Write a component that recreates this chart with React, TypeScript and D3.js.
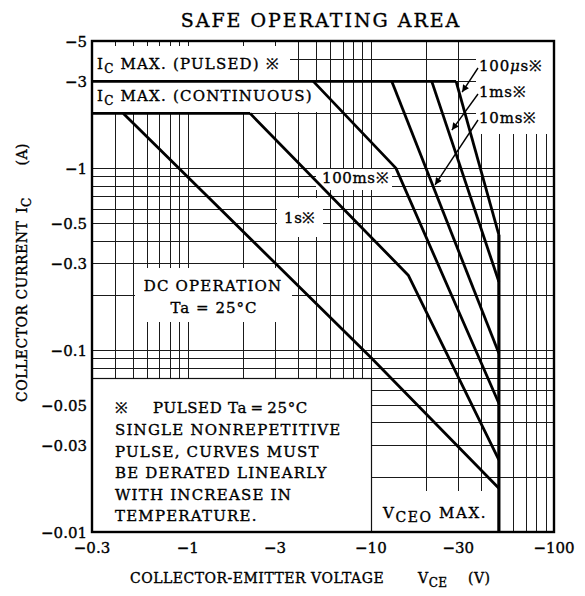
import React, { useEffect, useRef } from "react";
import * as d3 from "d3";

// limit curves, |VCE| in volts and |IC| in amperes
const dcVce = [0.445, 10, 50];
const dcIc = [2, 0.091, 0.0174];
const s1Vce = [2.19, 16, 50];
const s1Ic = [2, 0.258, 0.0249];
const ms100Vce = [4.85, 13.7, 50];
const ms100Ic = [3, 1.0, 0.051];
const ms10Vce = [13, 50];
const ms10Ic = [3, 0.096];
const ms1Vce = [21.5, 50];
const ms1Ic = [3, 0.2375];
const us100Vce = [29.2, 50];
const us100Ic = [3, 0.43];

const icMaxPulsed = 3;
const icMaxContinuous = 2;
const vceoMax = 50;

const vceTickLabels = [0.3, 1, 3, 10, 30, 100];
const icTickLabels = [5, 3, 1, 0.5, 0.3, 0.1, 0.05, 0.03, 0.01];

// arrow tips (on the curves) for the short-pulse labels
const arrowLabels = ["100us", "1ms", "10ms"];
const arrowTipVce = [31.5, 27.7, 22.4];
const arrowTipIc = [2.62, 1.62, 0.81];

const noteLines = [
  "SINGLE NONREPETITIVE",
  "PULSE, CURVES MUST",
  "BE DERATED LINEARLY",
  "WITH INCREASE IN",
  "TEMPERATURE.",
];

const zip = (a: number[], b: number[]) => a.map((v, i) => [v, b[i]] as [number, number]);

const App: React.FC = () => {
  const ref = useRef<SVGSVGElement | null>(null);

  useEffect(() => {
    const svg = d3.select(ref.current);
    svg.selectAll("*").remove();

    const left = 92, right = 554, top = 41, bottom = 532;
    const x = d3.scaleLog().domain([0.3, 100]).range([left, right]);
    const y = d3.scaleLog().domain([0.01, 5]).range([bottom, top]);
    const font = "'DejaVu Serif', serif";
    const snap = (v: number) => Math.round(v) + 0.5;

    svg.append("rect").attr("width", 585).attr("height", 596).attr("fill", "#fff");

    // log grid
    const vGrid = x.ticks().filter((v) => v > 0.3001 && v < 99.99);
    const hGrid = y.ticks().filter((v) => v > 0.01001 && v < 4.999);
    const grid = svg.append("g").attr("stroke", "#1a1a1a").attr("stroke-width", 1);
    grid.selectAll(".gv").data(vGrid).enter().append("line")
      .attr("x1", (d) => snap(x(d))).attr("x2", (d) => snap(x(d)))
      .attr("y1", top).attr("y2", bottom);
    grid.selectAll(".gh").data(hGrid).enter().append("line")
      .attr("y1", (d) => snap(y(d))).attr("y2", (d) => snap(y(d)))
      .attr("x1", left).attr("x2", right);

    // white patches behind labels
    const patches: [number, number, number, number][] = [
      [left + 1, 46, 290, 80],
      [left + 1, 82, 320, 112],
      [476, top + 1, right - 1, 134],
      [316, 169, 392, 190],
      [277, 198, 323, 237],
      [135, 268, 292, 322],
      [x(10) + 1.5, 491, x(vceoMax) - 1.5, bottom - 1],
    ];
    svg.append("g").selectAll("rect").data(patches).enter().append("rect")
      .attr("x", (d) => d[0]).attr("y", (d) => d[1])
      .attr("width", (d) => d[2] - d[0]).attr("height", (d) => d[3] - d[1])
      .attr("fill", "#fff");

    // note box
    svg.append("rect")
      .attr("x", left).attr("y", snap(y(0.07)))
      .attr("width", snap(x(10)) - left).attr("height", bottom - snap(y(0.07)))
      .attr("fill", "#fff").attr("stroke", "#111").attr("stroke-width", 1.2);

    // limit lines
    const line = d3.line<[number, number]>().x((d) => x(d[0])).y((d) => y(d[1]));
    const curves = [
      zip(dcVce, dcIc),
      zip(s1Vce, s1Ic),
      zip(ms100Vce, ms100Ic),
      zip(ms10Vce, ms10Ic),
      zip(ms1Vce, ms1Ic),
      zip(us100Vce, us100Ic),
      [[0.3, icMaxPulsed], [us100Vce[0], icMaxPulsed]] as [number, number][],
      [[0.3, icMaxContinuous], [s1Vce[0], icMaxContinuous]] as [number, number][],
    ];
    svg.append("g").selectAll("path").data(curves).enter().append("path")
      .attr("d", (d) => line(d)!)
      .attr("fill", "none").attr("stroke", "#000").attr("stroke-width", 2.8)
      .attr("stroke-linejoin", "round");
    svg.append("path")
      .attr("d", line([[vceoMax, 0.01], [vceoMax, us100Ic[1]]])!)
      .attr("stroke", "#000").attr("stroke-width", 3.2);

    // frame
    svg.append("rect")
      .attr("x", left).attr("y", top).attr("width", right - left).attr("height", bottom - top)
      .attr("fill", "none").attr("stroke", "#000").attr("stroke-width", 2.4);

    // heavier text, closer to the scanned datasheet face
    const ink = (t: any) => t.attr("fill", "#000").attr("stroke", "#000").attr("stroke-width", 0.35);

    // axis tick labels
    ink(svg.append("g")).selectAll("text").data(icTickLabels).enter().append("text")
      .attr("x", 87).attr("y", (d: number) => y(d) + 6)
      .attr("text-anchor", "end").attr("font-family", font).attr("font-size", 15)
      .text((d: number) => "\u2212" + d);
    ink(svg.append("g")).selectAll("text").data(vceTickLabels).enter().append("text")
      .attr("x", (d: number) => x(d)).attr("y", 553)
      .attr("text-anchor", "middle").attr("font-family", font).attr("font-size", 15)
      .text((d: number) => "\u2212" + d);

    const txt = (px: number, py: number, size = 15, spacing = 1.2) =>
      ink(svg.append("text")).attr("x", px).attr("y", py)
        .attr("font-family", font).attr("font-size", size)
        .style("letter-spacing", `${spacing}px`);

    const withSub = (t: any, a: string, sub: string, b: string, subSize = 12) => {
      t.append("tspan").text(a);
      t.append("tspan").attr("font-size", subSize).attr("dy", 4).text(sub);
      if (b) t.append("tspan").attr("dy", -4).text(b);
    };

    // title
    txt(321, 27, 19, 2).attr("text-anchor", "middle").text("SAFE OPERATING AREA");

    withSub(txt(97, 69), "I", "C", " MAX. (PULSED) \u203B");
    withSub(txt(97, 101), "I", "C", " MAX. (CONTINUOUS)");
    txt(322, 183, 15, 0.6).text("100ms\u203B");
    txt(284, 223, 15, 0.6).text("1s\u203B");
    txt(213, 291, 15, 1.2).attr("text-anchor", "middle").text("DC OPERATION");
    txt(214, 313, 15, 1).attr("text-anchor", "middle").text("Ta = 25\u00B0C");
    withSub(txt(383, 518, 15, 1.6), "V", "CEO", " MAX.", 14);

    // short pulse labels with arrows
    svg.append("defs").append("marker")
      .attr("id", "ah").attr("viewBox", "0 0 10 10").attr("refX", 10).attr("refY", 5)
      .attr("markerWidth", 10).attr("markerHeight", 7).attr("markerUnits", "userSpaceOnUse")
      .attr("orient", "auto")
      .append("path").attr("d", "M0,0L10,5L0,10z").attr("fill", "#000");
    const labelY = [71, 97, 123];
    arrowLabels.forEach((name, i) => {
      const t = txt(479, labelY[i], 15, 0.8);
      if (name === "100us") {
        t.append("tspan").text("100");
        t.append("tspan").attr("font-style", "italic").text("\u03BC");
        t.append("tspan").text("s\u203B");
      } else {
        t.text(name + "\u203B");
      }
      svg.append("line")
        .attr("x1", 478).attr("y1", labelY[i] - 3)
        .attr("x2", x(arrowTipVce[i])).attr("y2", y(arrowTipIc[i]))
        .attr("stroke", "#000").attr("stroke-width", 1.4)
        .attr("marker-end", "url(#ah)");
    });

    // note
    const first = txt(115, 413, 15, 0.6);
    first.append("tspan").text("\u203B");
    first.append("tspan").attr("x", 153).text("PULSED");
    first.append("tspan").attr("x", 228).text("Ta\u2009=\u200925\u00B0C");
    noteLines.forEach((s, i) => txt(115, 435 + i * 21.6, 15, 1.2).text(s));

    // axis titles
    txt(130, 583, 14, 0.5).text("COLLECTOR-EMITTER VOLTAGE");
    withSub(txt(418, 583, 14, 0.5), "V", "CE", "");
    txt(468, 583, 14, 0.5).text("(V)");

    const yg = svg.append("g").attr("transform", "rotate(-90)");
    const ytxt = (px: number, anchor: string) =>
      ink(yg.append("text")).attr("x", px).attr("y", 27)
        .attr("font-family", font).attr("font-size", 14).attr("text-anchor", anchor)
        .style("letter-spacing", "0.5px");
    ytxt(-402, "start").text("COLLECTOR CURRENT");
    withSub(ytxt(-213, "start"), "I", "C", "");
    ytxt(-143, "end").text("(A)");
  }, []);

  return (
    <svg
      ref={ref}
      width={585}
      height={596}
      style={{ position: "absolute", left: 0, top: 0, display: "block" }}
    />
  );
};

export default App;
